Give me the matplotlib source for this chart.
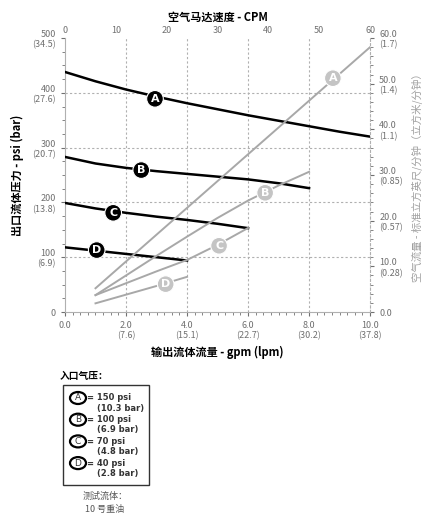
import numpy as np
import matplotlib.pyplot as plt
from matplotlib.patches import Rectangle, Ellipse

plt.rcParams['font.family'] = ['Noto Sans CJK SC', 'DejaVu Sans']

# ---------------- datos ----------------
# presión de salida (psi) frente a caudal (gpm)
gpm_A = [0, 1, 2, 3, 4, 5, 6, 7, 8, 9, 10]
psi_A = [438, 421, 406, 393, 381, 370, 359, 349, 339, 329, 320]
gpm_B = [0, 1, 2, 3, 4, 5, 6, 7, 8]
psi_B = [283, 271, 263, 257, 252, 247, 242, 235, 226]
gpm_C = [0, 1, 2, 3, 4, 5, 6]
psi_C = [199, 189, 181, 174, 168, 161, 153]
gpm_D = [0, 1, 2, 3, 4]
psi_D = [118, 112, 106, 100, 94]

# consumo de aire (scfm) frente a caudal (gpm)
aire_gpm_A = [1, 10]
scfm_A = [5.2, 58.0]
aire_gpm_B = [1, 2, 3, 4, 5, 6, 7, 8]
scfm_B = [3.7, 8.0, 12.3, 16.5, 20.6, 24.4, 27.7, 30.7]
aire_gpm_C = [1, 2, 3, 4, 5, 6]
scfm_C = [3.7, 6.3, 8.9, 11.4, 14.7, 18.4]
aire_gpm_D = [1, 2, 3, 4]
scfm_D = [1.9, 3.8, 5.7, 7.7]

# posiciones de las etiquetas (gpm, valor)
etiq_presion = {'A': (2.95, 389), 'B': (2.5, 259), 'C': (1.58, 181), 'D': (1.04, 113)}
etiq_aire = {'A': (8.78, 51.2), 'B': (6.56, 26.1), 'C': (5.05, 14.5), 'D': (3.3, 6.1)}

x_ticks = [0, 2, 4, 6, 8, 10]
x_labels = ['0.0', '2.0\n(7.6)', '4.0\n(15.1)', '6.0\n(22.7)', '8.0\n(30.2)', '10.0\n(37.8)']
y_ticks = [0, 100, 200, 300, 400, 500]
y_labels = ['0', '100\n(6.9)', '200\n(13.8)', '300\n(20.7)', '400\n(27.6)', '500\n(34.5)']
r_ticks = [0, 10, 20, 30, 40, 50, 60]
r_labels = ['0.0', '10.0\n(0.28)', '20.0\n(0.57)', '30.0\n(0.85)', '40.0\n(1.1)',
            '50.0\n(1.4)', '60.0\n(1.7)']
cpm_ticks = [0, 10, 20, 30, 40, 50, 60]

leyenda = [('A', '= 150 psi', '(10.3 bar)'),
           ('B', '= 100 psi', '(6.9 bar)'),
           ('C', '= 70 psi', '(4.8 bar)'),
           ('D', '= 40 psi', '(2.8 bar)')]

gris_txt = '#707070'
gris_lin = '#a8a8a8'
gris_rejilla = '#b0b0b0'

fig = plt.figure(figsize=(4.22, 5.17), dpi=100)
ax = fig.add_axes([0.154, 0.3965, 0.723, 0.53])

# --- rejilla ---
for xv in [2, 4, 6, 8]:
    ax.axvline(xv, color=gris_rejilla, linestyle=(0, (2, 2)), linewidth=0.8, zorder=0)
for yv in [100, 200, 300, 400]:
    ax.axhline(yv, color=gris_rejilla, linestyle=(0, (2, 2)), linewidth=0.8, zorder=0)

# --- curvas de presión ---
for gx, py in [(gpm_A, psi_A), (gpm_B, psi_B), (gpm_C, psi_C), (gpm_D, psi_D)]:
    ax.plot(gx, py, color='black', linewidth=1.8, zorder=3)

ax.set_xlim(0, 10)
ax.set_ylim(0, 500)
ax.set_xticks(x_ticks)
ax.set_xticklabels(x_labels)
ax.set_yticks(y_ticks)
ax.set_yticklabels(y_labels)
ax.set_xticks(np.arange(0, 10.01, 0.25), minor=True)
ax.set_yticks(np.arange(0, 501, 25), minor=True)
ax.tick_params(axis='both', which='major', labelsize=6.5, colors=gris_txt,
               length=3, width=0.8, direction='out')
ax.tick_params(axis='both', which='minor', colors=gris_txt, length=2, width=0.6)
ax.set_xlabel('输出流体流量 - gpm (lpm)', fontsize=8, fontweight='bold', labelpad=4)
ax.set_ylabel('出口流体压力 - psi (bar)', fontsize=8, fontweight='bold', labelpad=6)

for s in ['left', 'bottom']:
    ax.spines[s].set_color(gris_rejilla)
ax.spines['top'].set_visible(False)
ax.spines['right'].set_visible(False)

# --- eje derecho: consumo de aire ---
ax2 = ax.twinx()
for gx, sy in [(aire_gpm_A, scfm_A), (aire_gpm_B, scfm_B),
               (aire_gpm_C, scfm_C), (aire_gpm_D, scfm_D)]:
    ax2.plot(gx, sy, color=gris_lin, linewidth=1.4, zorder=2)
ax2.set_ylim(0, 60)
ax2.set_yticks(r_ticks)
ax2.set_yticklabels(r_labels)
ax2.set_yticks(np.arange(0, 60.1, 2), minor=True)
ax2.tick_params(axis='y', which='major', labelsize=6.5, colors=gris_txt, length=3, width=0.8)
ax2.tick_params(axis='y', which='minor', colors=gris_txt, length=2, width=0.6)
ax2.set_ylabel('空气流量 - 标准立方英尺/分钟（立方米/分钟）', fontsize=7.5, color='#a0a0a0',
               rotation=90, labelpad=6)
ax2.spines['right'].set_color(gris_rejilla)
ax2.spines['right'].set_linestyle((0, (2, 2)))
for s in ['top', 'left', 'bottom']:
    ax2.spines[s].set_visible(False)

# --- eje superior: velocidad del motor ---
ax3 = ax.twiny()
ax3.set_xlim(0, 60)
ax3.set_xticks(cpm_ticks)
ax3.tick_params(axis='x', labelsize=6.5, colors=gris_txt, length=0, pad=2)
ax3.set_xlabel('空气马达速度 - CPM', fontsize=8, fontweight='bold', labelpad=4)
for s in ['top', 'left', 'bottom', 'right']:
    ax3.spines[s].set_visible(False)

# --- etiquetas circulares ---
for letra, (gx, py) in etiq_presion.items():
    ax.text(gx, py, letra, ha='center', va='center', fontsize=8, fontweight='bold',
            color='white', zorder=5, family='DejaVu Sans',
            bbox=dict(boxstyle='circle,pad=0.3', facecolor='black', edgecolor='white',
                      linewidth=0.8))
for letra, (gx, sy) in etiq_aire.items():
    ax2.text(gx, sy, letra, ha='center', va='center', fontsize=8, fontweight='bold',
             color='white', zorder=5, family='DejaVu Sans',
             bbox=dict(boxstyle='circle,pad=0.3', facecolor='#c4c4c4', edgecolor='white',
                       linewidth=0.8))

# --- leyenda inferior ---
W, H = 422, 517
fig.text(60 / W, 1 - 376 / H, '入口气压：', fontsize=7, fontweight='bold', va='center')
fig.patches.append(Rectangle((63 / W, 1 - 485 / H), 86 / W, 100 / H,
                             transform=fig.transFigure, fill=False,
                             edgecolor='#333333', linewidth=1.0))
for i, (letra, psi, bar) in enumerate(leyenda):
    yc = 398 + i * 21.7
    fig.patches.append(Ellipse((78 / W, 1 - yc / H), 16 / W, 12 / H,
                               transform=fig.transFigure, facecolor='white',
                               edgecolor='black', linewidth=1.6))
    fig.text(78 / W, 1 - yc / H, letra, ha='center', va='center', fontsize=6.5,
             family='DejaVu Sans', color='#333333')
    fig.text(87 / W, 1 - yc / H, psi, va='center', fontsize=6, fontweight='bold',
             color='#333333', family='DejaVu Sans')
    fig.text(97 / W, 1 - (yc + 10) / H, bar, va='center', fontsize=6, fontweight='bold',
             color='#333333', family='DejaVu Sans')
fig.text(105 / W, 1 - 496 / H, '测试流体：', ha='center', va='center', fontsize=6.5,
         color='#555555')
fig.text(105 / W, 1 - 509 / H, '10 号重油', ha='center', va='center', fontsize=6.5,
         color='#555555')

fig.savefig('out.png', dpi=100)
